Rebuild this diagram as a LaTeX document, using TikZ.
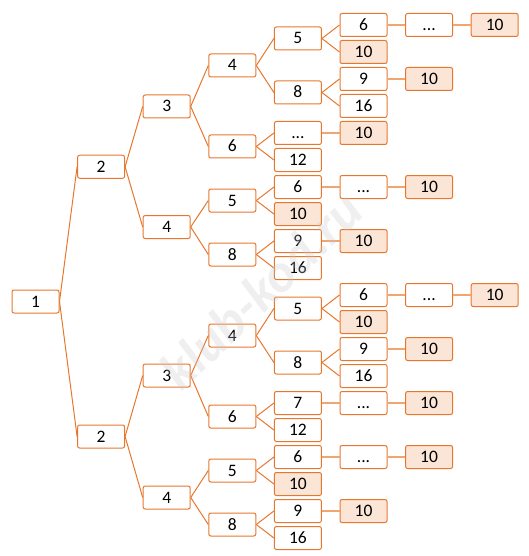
\documentclass[tikz,border=0pt]{standalone}
\usepackage{fontspec}
\setmainfont{Carlito}
\definecolor{acc}{HTML}{E8772E}
\definecolor{lite}{HTML}{FBE5D6}
\definecolor{link}{HTML}{F1A672}
\begin{document}
\begin{tikzpicture}[x=1pt,y=-1pt,
  box/.style={draw=acc, line width=1pt, rounded corners=2pt, minimum width=47pt, minimum height=23pt, inner sep=0pt, text height=11pt, text depth=0pt, font=\fontsize{17.5}{18}\selectfont, fill=white},
  goal/.style={box, fill=lite},
  conn/.style={draw=acc, line width=1pt},
  hlink/.style={draw=link, line width=1.3pt}]
\useasboundingbox (0,0) rectangle (529,556);
% column 0-3
\node[box] (n1) at (35.5,301.5) {1};
\node[box] (a2) at (101.1,166.75) {2};
\node[box] (b2) at (101.1,436.5) {2};
\node[box] (a3) at (166.7,106.5) {3};
\node[box] (a4) at (166.7,227) {4};
\node[box] (b3) at (166.7,375.5) {3};
\node[box] (b4) at (166.7,497.5) {4};
\node[box] (a34) at (232.3,65.5) {4};
\node[box] (a36) at (232.3,146.5) {6};
\node[box] (a45) at (232.3,200.5) {5};
\node[box] (a48) at (232.3,254.5) {8};
\node[box] (b34) at (232.3,335.5) {4};
\node[box] (b36) at (232.3,416.5) {6};
\node[box] (b45) at (232.3,470.5) {5};
\node[box] (b48) at (232.3,524.5) {8};
% column 4
\node[box] (a345) at (297.9,38.5) {5};
\node[box] (a348) at (297.9,92.5) {8};
\node[box] (a36d) at (297.9,133) {...};
\node[box] (a36t) at (297.9,160) {12};
\node[box] (a456) at (297.9,187) {6};
\node[goal] (a45g) at (297.9,214) {10};
\node[box] (a489) at (297.9,241) {9};
\node[box] (a48s) at (297.9,268) {16};
\node[box] (b345) at (297.9,308.5) {5};
\node[box] (b348) at (297.9,362.5) {8};
\node[box] (b367) at (297.9,403) {7};
\node[box] (b36t) at (297.9,430) {12};
\node[box] (b456) at (297.9,457) {6};
\node[goal] (b45g) at (297.9,484) {10};
\node[box] (b489) at (297.9,511) {9};
\node[box] (b48s) at (297.9,538) {16};
% column 5
\node[box] (a3456) at (363.5,25) {6};
\node[goal] (a345g) at (363.5,52) {10};
\node[box] (a3489) at (363.5,79) {9};
\node[box] (a348s) at (363.5,106) {16};
\node[goal] (a36dg) at (363.5,133) {10};
\node[box] (a456d) at (363.5,187) {...};
\node[goal] (a489g) at (363.5,241) {10};
\node[box] (b3456) at (363.5,295) {6};
\node[goal] (b345g) at (363.5,322) {10};
\node[box] (b3489) at (363.5,349) {9};
\node[box] (b348s) at (363.5,376) {16};
\node[box] (b367d) at (363.5,403) {...};
\node[box] (b456d) at (363.5,457) {...};
\node[goal] (b489g) at (363.5,511) {10};
% column 6
\node[box] (a3456d) at (429.1,25) {...};
\node[goal] (a3489g) at (429.1,79) {10};
\node[goal] (a456dg) at (429.1,187) {10};
\node[box] (b3456d) at (429.1,295) {...};
\node[goal] (b3489g) at (429.1,349) {10};
\node[goal] (b367dg) at (429.1,403) {10};
\node[goal] (b456dg) at (429.1,457) {10};
% column 7
\node[goal] (a3456g) at (494.7,25) {10};
\node[goal] (b3456g) at (494.7,295) {10};
% tree connectors
\foreach \p/\c in {n1/a2,n1/b2,a2/a3,a2/a4,b2/b3,b2/b4,a3/a34,a3/a36,a4/a45,a4/a48,b3/b34,b3/b36,b4/b45,b4/b48,
  a34/a345,a34/a348,a36/a36d,a36/a36t,a45/a456,a45/a45g,a48/a489,a48/a48s,
  b34/b345,b34/b348,b36/b367,b36/b36t,b45/b456,b45/b45g,b48/b489,b48/b48s,
  a345/a3456,a345/a345g,a348/a3489,a348/a348s,b345/b3456,b345/b345g,b348/b3489,b348/b348s}
  \draw[conn] (\p.east) -- (\c.west);
% chains
\foreach \p/\c in {a3456/a3456d,a3456d/a3456g,a3489/a3489g,a36d/a36dg,a456/a456d,a456d/a456dg,a489/a489g,
  b3456/b3456d,b3456d/b3456g,b3489/b3489g,b367/b367d,b367d/b367dg,b456/b456d,b456d/b456dg,b489/b489g}
  \draw[hlink] (\p.east) -- (\c.west);
% watermark
\node[rotate=44, font=\fontsize{54}{54}\selectfont\bfseries\itshape, text=gray!45, opacity=0.28] (wm) at (261,290) {klub-kod.ru};
\end{tikzpicture}
\end{document}
